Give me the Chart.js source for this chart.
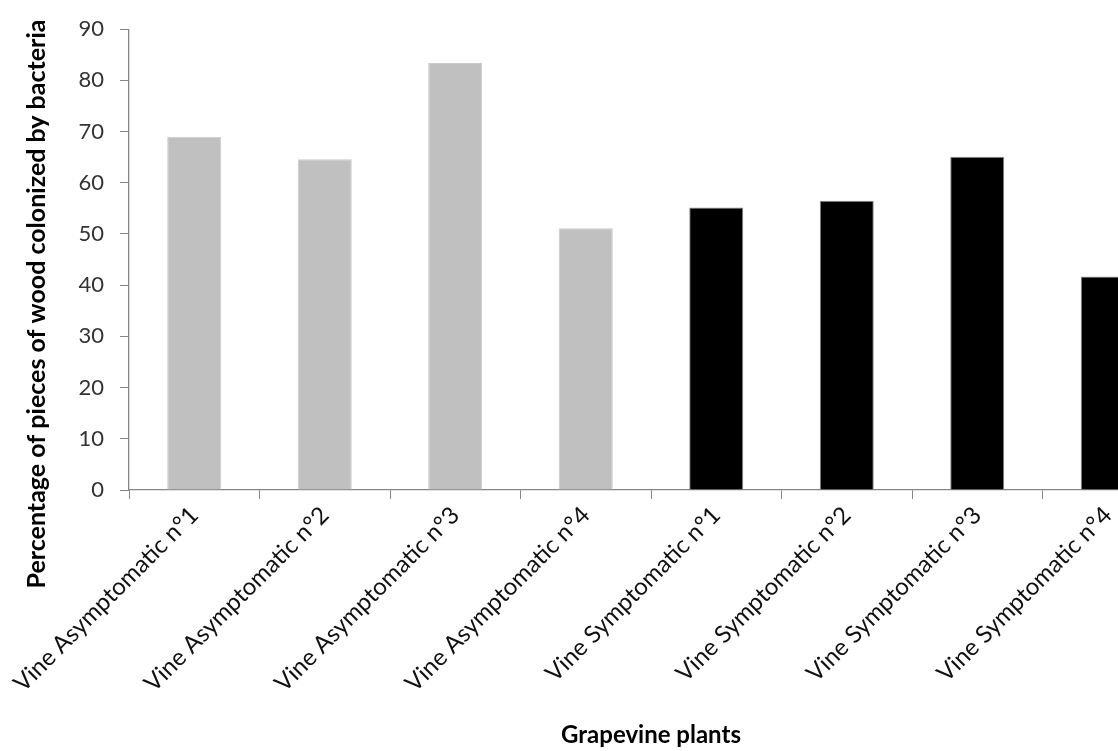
<!DOCTYPE html>
<html>
<head>
<meta charset="utf-8">
<script src="https://cdn.jsdelivr.net/npm/chart.js@4"></script>
<style>
  html, body { margin: 0; padding: 0; background: #fff; overflow: hidden; }
  #wrap { width: 1118px; height: 751px; overflow: hidden; }
</style>
</head>
<body>
<div id="wrap"><canvas id="barChart" width="1173" height="751"></canvas></div>
<script>
const plants = ["Vine Asymptomatic n°1", "Vine Asymptomatic n°2", "Vine Asymptomatic n°3", "Vine Asymptomatic n°4",
                "Vine Symptomatic n°1", "Vine Symptomatic n°2", "Vine Symptomatic n°3", "Vine Symptomatic n°4"];
const colonized = [69, 64.6, 83.4, 51.1, 55.2, 56.5, 65.1, 41.7];
const barColors = ["#c0c0c0", "#c0c0c0", "#c0c0c0", "#c0c0c0", "#000000", "#000000", "#000000", "#000000"];
const yTitle = "Percentage of pieces of wood colonized by bacteria";
const xTitle = "Grapevine plants";

const FONT = "Lato, 'Open Sans', sans-serif";
const axisGrey = "#868686";

// y-axis title drawn by hand so it can sit where the original puts it
const yTitlePlugin = {
    id: "yTitle",
    afterDraw(chart) {
        const ctx = chart.ctx;
        ctx.save();
        ctx.translate(37, 304);
        ctx.rotate(-Math.PI / 2);
        ctx.font = "bold 25px " + FONT;
        ctx.fillStyle = "#000";
        ctx.textAlign = "center";
        ctx.textBaseline = "middle";
        ctx.fillText(yTitle, 0, 0);
        ctx.restore();
    }
};

document.addEventListener("DOMContentLoaded", function () {
    const ctx = document.getElementById("barChart").getContext("2d");
    new Chart(ctx, {
        type: "bar",
        data: {
            labels: plants,
            datasets: [
                {
                    data: colonized,
                    backgroundColor: barColors,
                    borderColor: ["#cacaca", "#cacaca", "#cacaca", "#cacaca", "#8a8a8a", "#8a8a8a", "#8a8a8a", "#8a8a8a"],
                    borderWidth: 1,
                    barPercentage: 0.414,
                    categoryPercentage: 1,
                },
            ],
        },
        options: {
            responsive: false,
            animation: false,
            layout: { padding: { top: 24, right: 0, bottom: 0, left: 0 } },
            plugins: {
                legend: { display: false },
                tooltip: { enabled: false },
            },
            scales: {
                x: {
                    grid: { drawOnChartArea: false, color: axisGrey, tickLength: 9, offset: true },
                    border: { color: axisGrey, width: 1.3 },
                    ticks: {
                        minRotation: 45,
                        maxRotation: 45,
                        padding: 2,
                        color: "#111",
                        font: { family: FONT, size: 24 },
                    },
                    title: {
                        display: true,
                        text: xTitle,
                        color: "#000",
                        font: { family: FONT, size: 24, weight: "bold" },
                        padding: { top: 0, bottom: 1 },
                    },
                    afterFit(scale) { scale.height = 261; },
                },
                y: {
                    min: 0,
                    max: 90,
                    grid: { drawOnChartArea: false, color: axisGrey, tickLength: 9 },
                    border: { color: axisGrey, width: 1.3 },
                    ticks: {
                        stepSize: 10,
                        padding: 16,
                        color: "#333",
                        font: { family: FONT, size: 22 },
                    },
                    afterFit(scale) { scale.width = 129; },
                },
            },
        },
        plugins: [yTitlePlugin],
    });
});
</script>
</body>
</html>
